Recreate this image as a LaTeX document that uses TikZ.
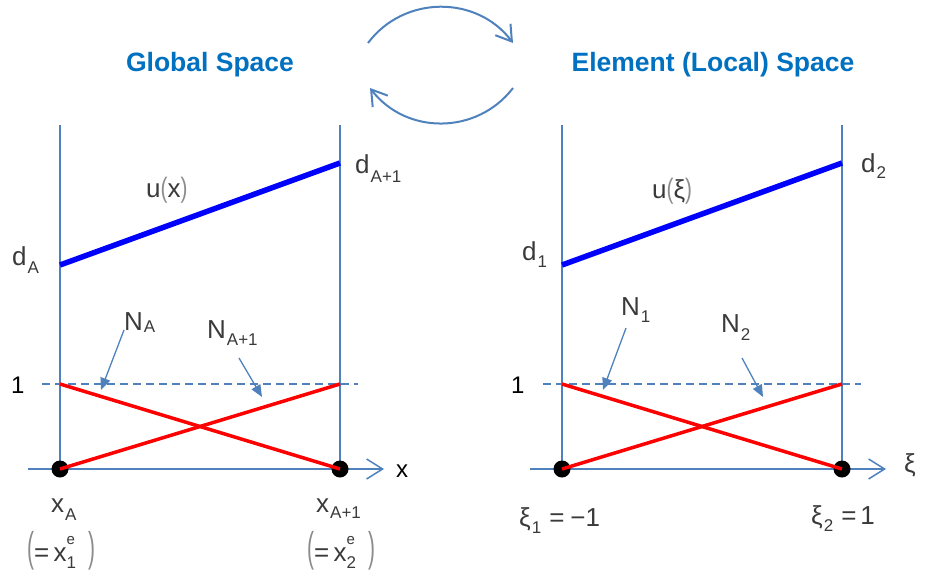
\documentclass[tikz,border=0pt]{standalone}
\usepackage{fontspec}
\setmainfont{Liberation Sans}
\usetikzlibrary{arrows.meta}
\definecolor{axisblue}{HTML}{4F81BD}
\definecolor{titleblue}{HTML}{0070C0}
\definecolor{lblgray}{HTML}{3A3A3A}
\definecolor{pgray}{HTML}{8C8C8C}
\newcommand\lsub[3][6pt]{#2\kern1pt\raisebox{-#1}{\fontsize{17}{17}\selectfont #3}}
\newcommand\supsubx[2]{\rlap{\raisebox{17pt}{\fontsize{15}{15}\selectfont #1}}\raisebox{-7pt}{\fontsize{17}{17}\selectfont #2}}
\newcommand\tallp[1]{{\color{pgray}\scalebox{0.8}[1.6]{#1}}}
\newcommand\smp[1]{{\color{pgray}\scalebox{0.8}[1.08]{#1}}}
\begin{document}
\begin{tikzpicture}[x=1pt,y=-1pt,
  lbl/.style={anchor=base west,inner sep=0pt,font=\fontsize{26}{26}\selectfont,text=lblgray},
  plain/.style={anchor=base west,inner sep=0pt,font=\fontsize{24}{24}\selectfont,text=black},
  titlelbl/.style={inner sep=0pt,font=\fontsize{26.5}{30}\selectfont\bfseries,text=titleblue},
  frameline/.style={axisblue,line width=1.4pt},
  axisline/.style={axisblue,line width=1.5pt,-{Straight Barb[length=16pt,width=20pt]}},
  cyc/.style={axisblue,line width=2pt,-{Straight Barb[length=15pt,width=19pt]}},
  dashline/.style={axisblue,line width=1.2pt,dash pattern=on 8pt off 5pt},
  uline/.style={blue,line width=5.5pt},
  nline/.style={red,line width=3.5pt},
  dotnode/.style={circle,fill=black,inner sep=0pt,minimum size=17pt},
  pointer/.style={axisblue,line width=1.3pt,-{Triangle[length=12pt,width=10pt]}}
]
\useasboundingbox (0,0) rectangle (925,573);

% titles
\node[titlelbl] (t1) at (210,65) {Global Space};
\node[titlelbl] (t2) at (713,65) {Element (Local) Space};

% cycle arrows
\coordinate (ca) at (368,43);
\coordinate (cb) at (513,43);
\coordinate (cc) at (513,88);
\coordinate (cd) at (370,88);
\draw[cyc] (ca) .. controls (404,-5) and (477,-5) .. (cb);
\draw[cyc] (cc) .. controls (477,135) and (406,135) .. (cd);

% ---------- left panel ----------
\coordinate (L0) at (28,469);
\coordinate (Lend) at (384,469);
\coordinate (LAt) at (60,125);
\coordinate (LBt) at (340,125);
\coordinate (LAb) at (60,469);
\coordinate (LBb) at (340,469);
\coordinate (LD0) at (42,384);
\coordinate (LD1) at (358,384);
\coordinate (LA1) at (60,384);
\coordinate (LB1) at (340,384);
\coordinate (LuA) at (60,265);
\coordinate (LuB) at (340,163);

\draw[frameline] (LAt) -- (LAb);
\draw[frameline] (LBt) -- (LBb);
\draw[axisline] (L0) -- (Lend);
\draw[dashline] (LD0) -- (LD1);
\draw[uline] (LuA) -- (LuB);
\node[dotnode] (LdA) at (LAb) {};
\node[dotnode] (LdB) at (LBb) {};
\draw[nline] (LA1) -- (LdB.center);
\draw[nline] (LdA.center) -- (LB1);

\node[lbl] (dA) at (12,265) {\lsub[8pt]{d}{A}};
\node[lbl] (dA1) at (355,173) {\lsub[9pt]{d}{A+1}};
\node[lbl] (ux) at (146,197) {u\smp{(}x\smp{)}};
\node[lbl] (NA) at (124,330) {\lsub[2pt]{N}{A}};
\node[lbl] (NA1) at (207,338) {\lsub[7pt]{N}{A+1}};
\node[plain] (oneL) at (11,393) {1};
\node[plain] (xl) at (396,477) {x};
\node[lbl] (xA) at (51,512) {\lsub[8pt]{x}{A}};
\node[lbl] (xA1) at (316,512) {\lsub[6pt]{x}{A+1}};
\node[lbl] (xe1) at (27,561) {\tallp{(}=\,x\supsubx{e}{1}\hspace{12pt}\tallp{)}};
\node[lbl] (xe2) at (307,561) {\tallp{(}=\,x\supsubx{e}{2}\hspace{12pt}\tallp{)}};

\coordinate (pA0) at (124,330);
\coordinate (pA1) at (101,390);
\coordinate (pB0) at (239,358);
\coordinate (pB1) at (262,397);
\draw[pointer] (pA0) -- (pA1);
\draw[pointer] (pB0) -- (pB1);

% ---------- right panel ----------
\coordinate (R0) at (530,469);
\coordinate (Rend) at (886,469);
\coordinate (RAt) at (562,125);
\coordinate (RBt) at (842,125);
\coordinate (RAb) at (562,469);
\coordinate (RBb) at (842,469);
\coordinate (RD0) at (543,384);
\coordinate (RD1) at (861,384);
\coordinate (RA1) at (562,384);
\coordinate (RB1) at (842,384);
\coordinate (RuA) at (562,265);
\coordinate (RuB) at (842,163);

\draw[frameline] (RAt) -- (RAb);
\draw[frameline] (RBt) -- (RBb);
\draw[axisline] (R0) -- (Rend);
\draw[dashline] (RD0) -- (RD1);
\draw[uline] (RuA) -- (RuB);
\node[dotnode] (RdA) at (RAb) {};
\node[dotnode] (RdB) at (RBb) {};
\draw[nline] (RA1) -- (RdB.center);
\draw[nline] (RdA.center) -- (RB1);

\node[lbl] (d1) at (522,260) {\lsub[7pt]{d}{1}};
\node[lbl] (d2) at (861,172) {\lsub[6pt]{d}{2}};
\node[lbl] (uxi) at (652,198) {u\smp{(}ξ\smp{)}};
\node[lbl] (N1) at (621,315) {\lsub[7pt]{N}{1}};
\node[lbl] (N2) at (721,332) {\lsub[8pt]{N}{2}};
\node[plain] (oneR) at (511,393) {1};
\node[lbl] (xil) at (904,472) {ξ};
\node[lbl] (xi1) at (519,526) {\lsub[7pt]{ξ}{1}\hspace{8pt}=\hspace{6pt}−1};
\node[lbl] (xi2) at (811,524) {\lsub[7pt]{ξ}{2}\hspace{8pt}=\hspace{4pt}1};

\coordinate (pC0) at (626,328);
\coordinate (pC1) at (603,390);
\coordinate (pD0) at (742,358);
\coordinate (pD1) at (763,397);
\draw[pointer] (pC0) -- (pC1);
\draw[pointer] (pD0) -- (pD1);
\end{tikzpicture}
\end{document}
